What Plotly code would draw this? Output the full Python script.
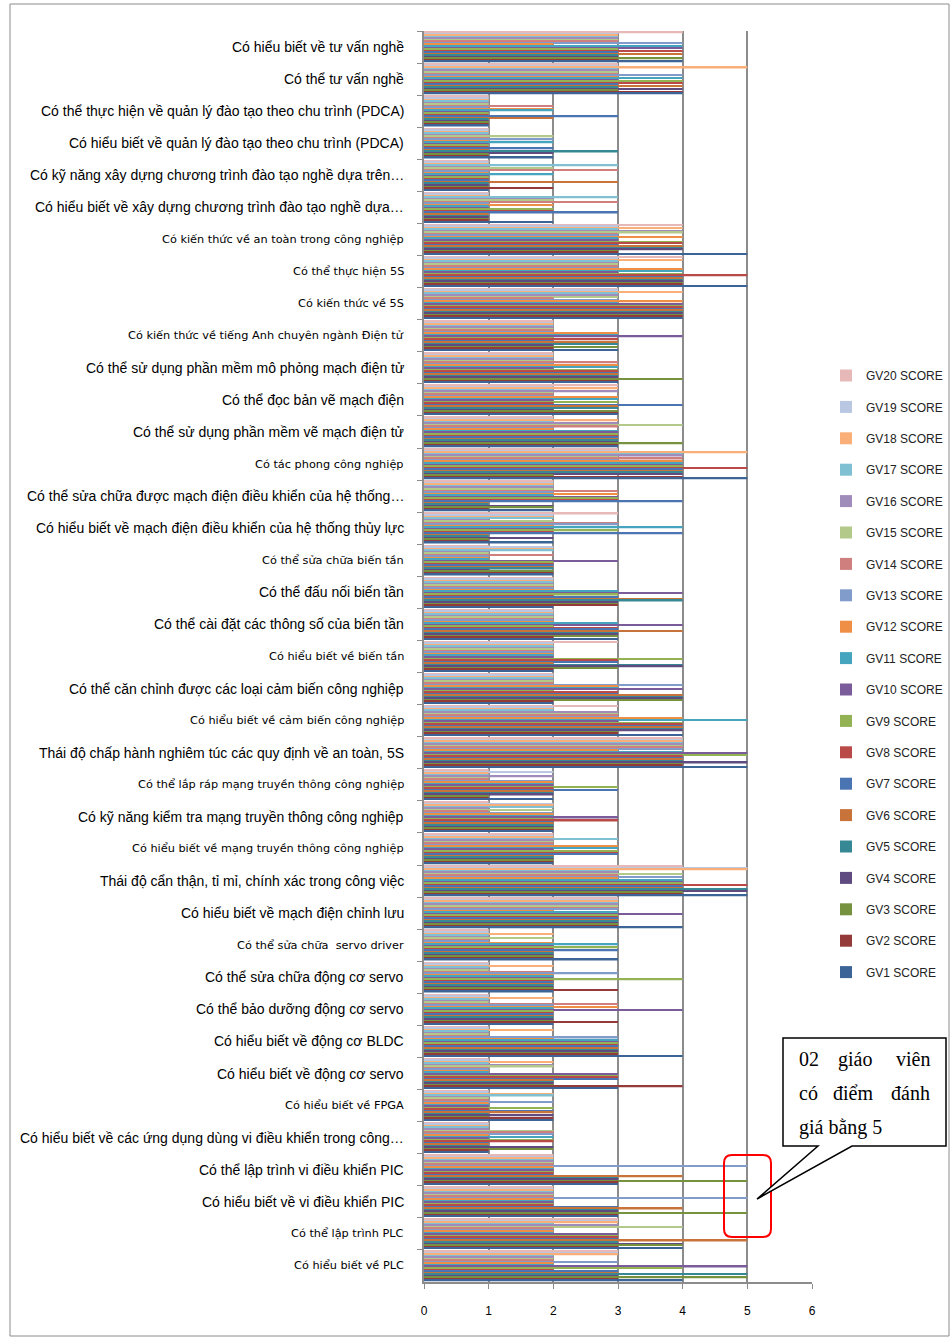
import plotly.graph_objects as go

# Competency items, listed top to bottom
categories = [
    "Có hiểu biết về tư vấn nghề",
    "Có thể tư vấn nghề",
    "Có thể thực hiện về quản lý đào tạo theo chu trình (PDCA)",
    "Có hiểu biết về quản lý đào tạo theo chu trình (PDCA)",
    "Có kỹ năng xây dựng chương trình đào tạo nghề dựa trên…",
    "Có hiểu biết về xây dựng chương trình đào tạo nghề dựa…",
    "Có kiến thức về an toàn trong công nghiệp",
    "Có thể thực hiện 5S",
    "Có kiến thức về 5S",
    "Có kiến thức về tiếng Anh chuyên ngành Điện tử",
    "Có thể sử dụng phần mềm mô phỏng mạch điện tử",
    "Có thể đọc bản vẽ mạch điện",
    "Có thể sử dụng phần mềm vẽ mạch điện tử",
    "Có tác phong công nghiệp",
    "Có thể sửa chữa được mạch điện điều khiển của hệ thống…",
    "Có hiểu biết về mạch điện điều khiển của hệ thống thủy lực",
    "Có thể sửa chữa biến tần",
    "Có thể đấu nối biến tần",
    "Có thể cài đặt các thông số của biến tần",
    "Có hiểu biết về biến tần",
    "Có thể căn chỉnh được các loại cảm biến công nghiệp",
    "Có hiểu biết về cảm biến công nghiệp",
    "Thái độ chấp hành nghiêm túc các quy định về an toàn, 5S",
    "Có thể lắp ráp mạng truyền thông công nghiệp",
    "Có kỹ năng kiểm tra mạng truyền thông công nghiệp",
    "Có hiểu biết về mạng truyền thông công nghiệp",
    "Thái độ cẩn thận, tỉ mỉ, chính xác trong công việc",
    "Có hiểu biết về mạch điện chỉnh lưu",
    "Có thể sửa chữa  servo driver",
    "Có thể sửa chữa động cơ servo",
    "Có thể bảo dưỡng động cơ servo",
    "Có hiểu biết về động cơ BLDC",
    "Có hiểu biết về động cơ servo",
    "Có hiểu biết về FPGA",
    "Có hiểu biết về các ứng dụng dùng vi điều khiển trong công…",
    "Có thể lập trình vi điều khiển PIC",
    "Có hiểu biết về vi điều khiển PIC",
    "Có thể lập trình PLC",
    "Có hiểu biết về PLC",
]

# Items whose labels are set in the smaller typeface
small_labels = {
    "Có kiến thức về an toàn trong công nghiệp",
    "Có thể thực hiện 5S",
    "Có kiến thức về 5S",
    "Có kiến thức về tiếng Anh chuyên ngành Điện tử",
    "Có tác phong công nghiệp",
    "Có thể sửa chữa biến tần",
    "Có hiểu biết về biến tần",
    "Có hiểu biết về cảm biến công nghiệp",
    "Có thể lắp ráp mạng truyền thông công nghiệp",
    "Có hiểu biết về mạng truyền thông công nghiệp",
    "Có thể sửa chữa  servo driver",
    "Có hiểu biết về FPGA",
    "Có thể lập trình PLC",
    "Có hiểu biết về PLC",
}

# Scores of each teacher (GV1..GV20), one value per item in the order above
gv1 = [4,4,1,2,1,2,5,5,4,3,3,3,3,5,2,2,2,2,3,2,2,4,5,2,2,2,5,4,3,2,2,4,3,2,1,3,3,4,4]
gv2 = [3,4,1,1,2,1,3,4,4,2,3,3,3,4,1,1,2,3,2,2,2,3,4,1,2,2,4,3,2,3,3,3,4,2,1,3,3,3,3]
gv3 = [4,3,1,1,1,1,3,4,4,3,4,3,4,2,2,1,2,3,3,3,4,3,4,1,2,2,4,3,2,2,2,3,2,1,2,5,5,4,5]
gv4 = [3,4,1,2,1,1,4,4,4,2,3,2,3,4,2,2,1,3,3,4,4,4,5,2,2,2,5,3,2,2,2,3,2,2,2,3,3,4,3]
gv5 = [3,3,1,3,1,1,4,4,4,3,3,3,3,4,1,1,2,4,3,4,4,4,4,2,2,2,5,3,2,2,2,3,2,1,1,3,3,3,5]
gv6 = [4,4,2,1,3,1,4,4,4,3,3,3,3,4,1,1,2,4,4,2,4,4,4,2,2,2,4,3,2,2,2,3,2,2,1,4,4,5,3]
gv7 = [3,3,3,2,1,3,3,4,4,2,3,4,3,4,4,4,2,3,3,3,3,4,4,3,2,3,4,3,3,2,2,3,3,2,1,2,3,3,3]
gv8 = [4,4,1,1,1,2,4,5,4,3,3,2,3,5,3,2,2,2,3,3,3,4,4,2,3,3,5,3,2,2,2,3,3,1,2,2,2,3,2]
gv9 = [3,4,1,1,1,2,4,4,4,2,3,3,3,4,3,3,2,3,2,4,2,4,5,3,2,3,4,3,3,4,2,3,3,2,2,2,2,3,4]
gv10 = [4,3,1,1,1,1,3,3,4,4,2,2,3,4,3,2,3,4,4,2,4,3,5,2,3,2,4,4,2,2,4,3,3,1,1,2,2,3,5]
gv11 = [4,4,2,2,2,1,3,4,3,3,3,3,3,4,2,4,1,3,3,2,3,5,4,2,2,3,4,3,3,2,2,3,1,1,2,2,2,2,2]
gv12 = [2,3,2,1,1,2,4,4,4,3,3,3,2,4,3,2,1,2,2,2,3,4,3,2,2,3,3,2,2,2,3,2,1,1,1,2,2,2,2]
gv13 = [4,4,1,2,1,1,3,3,3,2,2,2,2,3,2,3,1,2,2,2,4,3,4,2,2,2,4,3,1,3,2,3,1,2,2,5,5,2,3]
gv14 = [3,3,2,1,3,3,3,3,2,2,3,2,3,4,3,3,2,2,2,2,2,3,4,1,1,2,3,3,1,2,3,1,1,1,2,2,2,2,2]
gv15 = [3,3,1,2,2,2,4,3,3,2,2,2,4,3,2,2,1,2,2,2,2,3,4,1,2,2,4,3,2,1,1,1,2,1,2,2,2,4,2]
gv16 = [3,3,1,1,1,2,4,3,3,2,2,3,3,4,2,1,1,2,2,2,2,3,4,2,1,2,3,3,1,1,1,1,2,1,1,2,2,3,2]
gv17 = [3,3,1,1,3,3,3,3,3,2,2,2,2,4,2,2,2,2,2,2,2,2,4,1,2,3,3,3,1,1,1,1,1,2,1,2,2,2,2]
gv18 = [3,5,1,1,1,1,4,4,4,2,2,3,3,5,2,2,2,2,2,2,2,2,4,1,2,2,5,3,2,2,2,2,2,2,1,2,2,3,3]
gv19 = [3,3,1,1,1,1,3,3,3,2,2,2,2,3,2,2,2,2,2,2,2,2,4,2,2,2,5,3,1,1,1,1,1,1,1,2,2,3,3]
gv20 = [4,3,1,1,1,1,4,4,3,2,2,3,2,3,2,3,1,2,2,3,2,3,4,1,1,2,4,3,1,1,1,1,1,1,1,2,2,3,3]

series = [gv1, gv2, gv3, gv4, gv5, gv6, gv7, gv8, gv9, gv10,
          gv11, gv12, gv13, gv14, gv15, gv16, gv17, gv18, gv19, gv20]
series_names = [f"GV{i} SCORE" for i in range(1, 21)]
for s in series:
    assert len(s) == len(categories)

colors = [
    "#3C6496", "#943B3A", "#77923E", "#5F4B7F", "#378895",
    "#C8733A", "#4A74B2", "#B94A47", "#92B254", "#7A5C9B",
    "#46A5BE", "#EE8F45", "#819CCB", "#CE7F7E", "#B2C98A",
    "#A08CBA", "#7FC1D3", "#FAAE78", "#B9C7E3", "#E6B9B8",
]

W, H = 951, 1338
L, R, T, B = 424, 812, 31, 1282  # plot area edges in pixels


def px(x):
    return (x - L) / (R - L)


def py(y):
    return (B - y) / (B - T)


fig = go.Figure()
# GV20 first so that it sits at the top of each group and of the legend
for i in range(19, -1, -1):
    fig.add_trace(go.Bar(
        y=categories, x=series[i], orientation="h",
        name=series_names[i], legendgroup=series_names[i],
        marker=dict(color=colors[i], line=dict(width=0)),
    ))

grid = "#8c8c8c"
fig.update_layout(
    width=W, height=H,
    margin=dict(l=L, r=W - R, t=T, b=H - B, pad=0, autoexpand=False),
    paper_bgcolor="white", plot_bgcolor="white",
    barmode="group", bargap=0.05, bargroupgap=0,
    font=dict(family="Liberation Sans", color="black"),
    xaxis=dict(
        range=[0, 6], dtick=1, tick0=0, showgrid=True, gridcolor=grid,
        gridwidth=1.5, showline=True, linecolor=grid, linewidth=1.5,
        ticks="outside", ticklen=5, tickcolor=grid, zeroline=False,
        tickfont=dict(size=12, color="black", family="Liberation Sans"),
        ticklabelstandoff=12,
    ),
    yaxis=dict(
        type="category", autorange="reversed", showticklabels=False,
        showline=True, linecolor=grid, linewidth=1.5, ticks="outside",
        tickson="boundaries", ticklen=5, tickcolor=grid, showgrid=False,
    ),
    legend=dict(
        x=px(826), y=py(361), xanchor="left", yanchor="top",
        font=dict(size=12, color="#222222", family="Liberation Sans"),
        tracegroupgap=12.4, itemwidth=30, bgcolor="rgba(0,0,0,0)",
    ),
)

# Item labels next to the axis
annotations = []
for c in categories:
    small = c in small_labels
    annotations.append(dict(
        x=0, xref="paper", y=c, yref="y", xanchor="right", yanchor="middle",
        xshift=-18, showarrow=False, text=c,
        font=dict(family="DejaVu Sans" if small else "Liberation Sans",
                  size=11.3 if small else 14, color="black"),
    ))

# Callout text
callout_font = dict(family="Liberation Serif", size=20, color="black")
callout_words = [
    ("02", 797, 1059, "left"), ("giáo", 855, 1059, "center"), ("viên", 932, 1059, "right"),
    ("có", 797, 1093, "left"), ("điểm", 853, 1093, "center"), ("đánh", 932, 1093, "right"),
    ("giá bằng 5", 797, 1127, "left"),
]
for text, x, y, anchor in callout_words:
    annotations.append(dict(
        x=px(x), y=py(y), xref="paper", yref="paper", xanchor=anchor,
        yanchor="middle", showarrow=False, text=text, font=callout_font,
    ))
fig.update_layout(annotations=annotations)


def path(points, close=True):
    d = "M " + " L ".join(f"{px(x):.5f},{py(y):.5f}" for x, y in points)
    return d + (" Z" if close else "")


# Rounded red highlight box
x0, x1, y0, y1, r = 724, 771, 1155, 1237, 8
rounded = (
    f"M {px(x0 + r):.5f},{py(y0):.5f} L {px(x1 - r):.5f},{py(y0):.5f} "
    f"Q {px(x1):.5f},{py(y0):.5f} {px(x1):.5f},{py(y0 + r):.5f} "
    f"L {px(x1):.5f},{py(y1 - r):.5f} "
    f"Q {px(x1):.5f},{py(y1):.5f} {px(x1 - r):.5f},{py(y1):.5f} "
    f"L {px(x0 + r):.5f},{py(y1):.5f} "
    f"Q {px(x0):.5f},{py(y1):.5f} {px(x0):.5f},{py(y1 - r):.5f} "
    f"L {px(x0):.5f},{py(y0 + r):.5f} "
    f"Q {px(x0):.5f},{py(y0):.5f} {px(x0 + r):.5f},{py(y0):.5f} Z"
)

shapes = [
    # outer chart frame
    dict(type="rect", xref="paper", yref="paper", x0=px(10), x1=px(949),
         y0=py(1336), y1=py(4), line=dict(color="#8c8c8c", width=1),
         fillcolor="rgba(0,0,0,0)", layer="below"),
    dict(type="path", xref="paper", yref="paper", path=rounded,
         line=dict(color="#ff0000", width=2), fillcolor="rgba(0,0,0,0)"),
    # callout box with its pointer
    dict(type="path", xref="paper", yref="paper",
         path=path([(783, 1038), (946, 1038), (946, 1146), (852, 1146),
                    (757, 1199), (818, 1146), (783, 1146)]),
         line=dict(color="black", width=1.5), fillcolor="white"),
]
fig.update_layout(shapes=shapes)

fig.write_html("out.html")
